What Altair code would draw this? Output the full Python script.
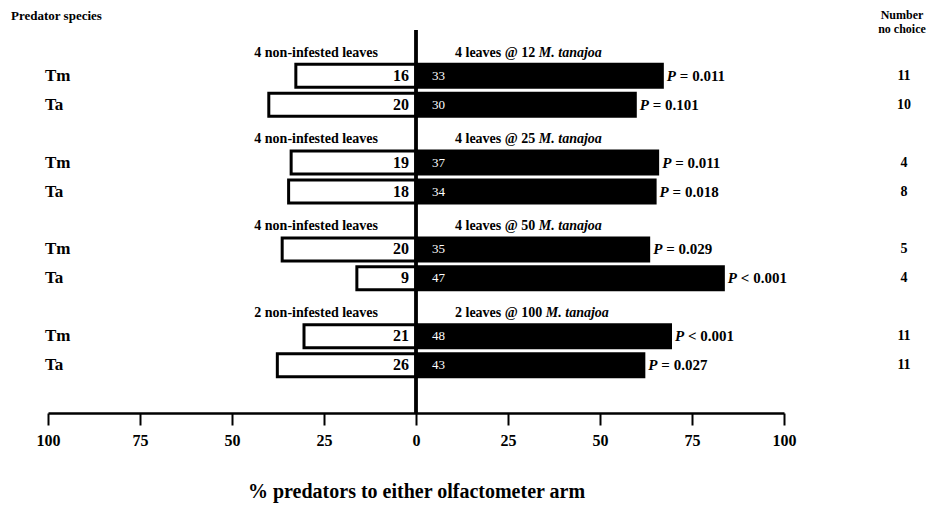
import altair as alt
import pandas as pd

# ---------------- data ----------------
species = ["Tm", "Ta", "Tm", "Ta", "Tm", "Ta", "Tm", "Ta"]
group_idx = [0, 0, 1, 1, 2, 2, 3, 3]
non_infested = [16, 20, 19, 18, 20, 9, 21, 26]
infested = [33, 30, 37, 34, 35, 47, 48, 43]
no_choice = [11, 10, 4, 8, 5, 4, 11, 11]
p_text = ["= 0.011", "= 0.101", "= 0.011", "= 0.018",
          "= 0.029", "< 0.001", "< 0.001", "= 0.027"]
left_group_labels = ["4 non-infested leaves", "4 non-infested leaves",
                     "4 non-infested leaves", "2 non-infested leaves"]
right_group_prefix = ["4 leaves @ 12", "4 leaves @ 25",
                      "4 leaves @ 50", "2 leaves @ 100"]
right_group_species = "M. tanajoa"
x_ticks = [-100, -75, -50, -25, 0, 25, 50, 75, 100]

# ---------------- derived tables ----------------
rows = pd.DataFrame({
    "species": species,
    "group": group_idx,
    "non_infested": non_infested,
    "infested": infested,
    "no_choice": no_choice,
    "p_text": p_text,
})
rows["slot"] = rows["group"] * 3 + [0 if s == "Tm" else 1 for s in species]
tot = rows["non_infested"] + rows["infested"]
rows["left"] = -rows["non_infested"] / tot * 100
rows["right"] = rows["infested"] / tot * 100
rows["zero"] = 0.0

groups = pd.DataFrame({
    "group": [0, 1, 2, 3],
    "left_label": left_group_labels,
    "prefix": right_group_prefix,
})
groups["gslot"] = groups["group"] * 3 - 0.8
groups["zero"] = 0.0

W, H = 736, 383
FONT = "Liberation Serif"

x_scale = alt.Scale(domain=[-100, 100], nice=False, zero=False)
y_scale = alt.Scale(domain=[-1.41, 11.48], reverse=True, nice=False, zero=False)
X_AXIS = alt.Axis(values=x_ticks, labelExpr="abs(datum.value)",
                  title="% predators to either olfactometer arm",
                  grid=False, domainColor="black", domainWidth=2.5,
                  tickColor="black", tickWidth=2, tickSize=12,
                  labelFont=FONT, labelFontSize=16,
                  labelFontWeight="bold", labelColor="black",
                  labelPadding=7, labelFlush=False,
                  titleFont=FONT, titleFontSize=20,
                  titleFontWeight="bold", titleColor="black",
                  titlePadding=33)


def X(field):
    return alt.X(field, scale=x_scale, axis=X_AXIS)


Y = alt.Y("slot:Q", scale=y_scale, axis=None)

base = alt.Chart(rows)

left_bars = base.mark_bar(size=23, fill="white", stroke="black",
                          strokeWidth=3, orient="horizontal").encode(
    x=X("left:Q"), x2="zero:Q", y=Y)

right_bars = base.mark_bar(size=26, color="black", orient="horizontal").encode(
    x=X("zero:Q"), x2="right:Q", y=Y)

zero_rule = base.mark_rule(color="black", strokeWidth=2.5).encode(x=X("zero:Q"))

species_text = base.mark_text(align="left", baseline="middle", font=FONT,
                              fontSize=17, fontWeight="bold", color="black").encode(
    x=alt.value(-3), y=Y, text="species:N")

left_count = base.mark_text(align="right", baseline="middle", dx=-7, font=FONT,
                            fontSize=16, fontWeight="bold", color="black").encode(
    x=X("zero:Q"), y=Y, text="non_infested:Q")

right_count = base.mark_text(align="left", baseline="middle", dx=16, font=FONT,
                             fontSize=13, color="white").encode(
    x=X("zero:Q"), y=Y, text="infested:Q")

p_letter = base.mark_text(align="left", baseline="middle", dx=3, font=FONT,
                          fontSize=15, fontWeight="bold", fontStyle="italic",
                          color="black").encode(
    x=X("right:Q"), y=Y, text=alt.value("P"))

p_rest = base.mark_text(align="left", baseline="middle", dx=16, font=FONT,
                        fontSize=15, fontWeight="bold", color="black").encode(
    x=X("right:Q"), y=Y, text="p_text:N")

nochoice_text = base.mark_text(align="center", baseline="middle", font=FONT,
                               fontSize=14, fontWeight="bold", color="black").encode(
    x=alt.value(856), y=Y, text="no_choice:Q")

GY = alt.Y("gslot:Q", scale=y_scale, axis=None)
gbase = alt.Chart(groups)
left_glabel = gbase.mark_text(align="right", baseline="middle", dx=-38, font=FONT,
                              fontSize=14, fontWeight="bold", color="black").encode(
    x=X("zero:Q"), y=GY, text="left_label:N")

# approximate glyph widths (Times bold, per 1000 em) to place the italic part
TB = {" ": 250, "@": 930, "l": 278, "e": 444, "a": 500, "v": 500, "s": 389}


def text_w(s, size):
    return sum(TB.get(c, 500) for c in s) / 1000 * size


G_FS = 14
right_glabels = []
for g in range(4):
    pre = gbase.transform_filter(alt.datum.group == g)
    right_glabels.append(pre.mark_text(align="left", baseline="middle", dx=39,
                                       font=FONT, fontSize=G_FS, fontWeight="bold",
                                       color="black").encode(
        x=X("zero:Q"), y=GY, text="prefix:N"))
    dx_it = 39 + text_w(right_group_prefix[g] + " ", G_FS)
    right_glabels.append(pre.mark_text(align="left", baseline="middle", dx=dx_it,
                                       font=FONT, fontSize=G_FS, fontWeight="bold",
                                       fontStyle="italic", color="black").encode(
        x=X("zero:Q"), y=GY, text=alt.value(right_group_species)))

hdr = alt.Chart(pd.DataFrame({"a": [0]}))
pred_hdr = hdr.mark_text(align="left", baseline="middle", font=FONT, fontSize=13,
                         fontWeight="bold", color="black").encode(
    x=alt.value(-37), y=alt.value(-14), text=alt.value("Predator species"))
num_hdr1 = hdr.mark_text(align="center", baseline="middle", font=FONT, fontSize=12,
                         fontWeight="bold", color="black").encode(
    x=alt.value(854), y=alt.value(-15), text=alt.value("Number"))
num_hdr2 = hdr.mark_text(align="center", baseline="middle", font=FONT, fontSize=12,
                         fontWeight="bold", color="black").encode(
    x=alt.value(854), y=alt.value(-1), text=alt.value("no choice"))

chart = alt.layer(
    left_bars, right_bars, zero_rule, species_text, left_count, right_count,
    p_letter, p_rest, nochoice_text, left_glabel, *right_glabels,
    pred_hdr, num_hdr1, num_hdr2,
).properties(
    width=W, height=H,
    background="white",
    autosize=alt.AutoSizeParams(type="none"),
    padding={"left": 40, "top": 22, "right": 150, "bottom": 94},
).configure_view(stroke=None)

chart.save("out.html", embed_options={"renderer": "svg", "actions": False})
